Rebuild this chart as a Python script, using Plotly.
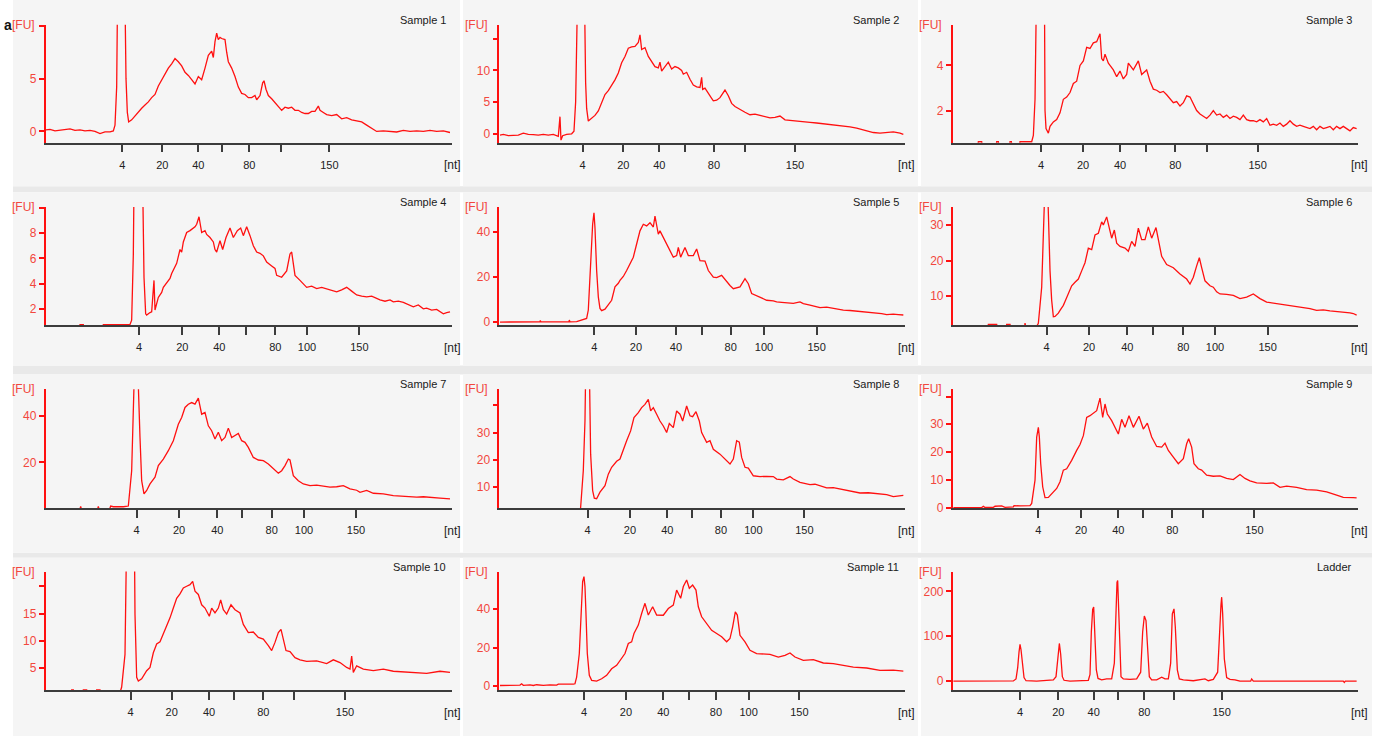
import plotly.graph_objects as go

# ---------------------------------------------------------------------------
# Electropherogram traces: (migration time [s], fluorescence [FU]) per well
# ---------------------------------------------------------------------------
s1 = [(13.8,0.15),(15,0.2),(16.5,0.05),(18,0.1),(19.5,0.2),(21,0.25),(22.5,0.1),(24,0.15),(25.5,0.05),(27,0.1),
      (28.5,0.0),(30,-0.2),(31.5,-0.05),(33,-0.05),(34,0.05),(34.5,0.6),(35.0,4.2),(35.3,14),(36.4,40),(37.6,14),
      (37.8,5),(38.2,1.8),(38.6,0.9),(39.5,1.1),(40.5,1.5),(41.5,1.8),(42.5,2.2),(43.5,2.5),(44.5,2.8),(45.5,3.2),
      (46.5,3.5),(47.5,4.3),(48.5,4.9),(49.5,5.4),(50.5,6.0),(51.5,6.4),(52.5,6.9),(53.5,6.6),(54.5,6.2),(55.5,5.6),
      (56.5,5.3),(57.5,4.9),(58.5,4.5),(59.5,5.2),(60.5,4.9),(61.5,6.0),(62.5,7.2),(63.5,7.6),(64,7.0),(64.5,8.5),
      (65,9.3),(65.5,8.7),(66,8.9),(66.5,8.8),(67.5,8.7),(68,7.5),(68.5,6.6),(69.5,6.0),(70.5,5.2),(71.5,4.2),
      (72.5,3.6),(73.5,3.5),(74.5,3.2),(75.5,3.2),(76.5,3.4),(77,3.0),(78,3.4),(78.8,4.6),(79.2,4.8),(79.8,4.0),
      (80.5,3.4),(81.5,3.1),(82.5,2.7),(83.5,2.4),(84.5,2.0),(85.5,2.3),(86.5,2.2),(87.5,2.3),(88.5,2.0),(89.5,2.0),
      (90.5,1.8),(91.5,1.7),(92.5,1.7),(93.5,1.9),(94.5,1.9),(95.5,2.4),(96,2.0),(97,1.8),(98,1.6),(99.5,1.5),
      (101,1.6),(102.5,1.2),(104,1.3),(105.5,1.1),(107,1.0),(108.5,0.9),(110,0.6),(111.5,0.3),(113,0.0),(115,0.05),
      (117,0.0),(119,-0.05),(121,0.1),(123,0.0),(125,0.05),(127,0.0),(129,0.1),(131,0.0),(133,0.05),(135,-0.1)]

s2 = [(12,-0.2),(13,-0.1),(14.5,-0.3),(16,-0.2),(17.5,-0.2),(19,0.1),(20.5,-0.1),(22,-0.15),(23.5,-0.2),(25,-0.1),
      (26.5,-0.2),(28,-0.1),(29.5,-0.4),(30,2.7),(30.3,-1.0),(30.8,-0.3),(32,-0.1),(33.5,0.0),(34.2,0.4),(34.7,5),
      (35.2,20),(36.3,40),(37.4,20),(37.7,8),(38,4),(38.5,2.0),(39.5,2.4),(40.5,2.9),(41.5,3.6),(42.5,5.0),
      (43.5,6.2),(44.5,6.8),(45.5,7.6),(46.5,8.5),(47.5,9.6),(48.5,11.2),(49.5,12.2),(50.5,13.5),(51.5,13.7),(52.5,13.8),
      (53.5,14.4),(54,15.6),(54.5,13.3),(55.5,13.6),(56.5,12.2),(57.5,11.3),(58.5,10.6),(59.5,10.4),(60,11.3),(60.5,9.9),
      (61.5,10.6),(62.5,11.3),(63.5,10.2),(64.5,10.6),(65.5,10.4),(66.5,10.0),(67,9.4),(68,9.7),(69,8.6),(70,7.7),
      (71,7.4),(72,7.3),(72.5,8.9),(72.8,7.0),(73.5,7.2),(74.5,6.3),(75.5,5.6),(76,5.2),(77,5.3),(78,5.7),
      (79,6.5),(79.5,6.9),(80.5,6.0),(81.5,4.8),(82.5,4.3),(84,3.8),(85.5,3.4),(87,3.0),(88.5,3.1),(90,2.9),
      (91.5,2.7),(93,2.5),(94.5,2.6),(96,2.8),(97.5,2.2),(99,2.1),(101,2.0),(103,1.9),(105,1.8),(107,1.7),
      (109,1.6),(111,1.5),(113,1.4),(115,1.2),(117,1.1),(119,0.9),(120.5,0.7),(122,0.4),(124,0.2),(126,0.1),
      (128,0.2),(130,0.3),(132,0.1),(133,-0.1)]

s3 = [(10,0.5),(17.4,0.5),(17.5,0.62),(18.5,0.62),(18.6,0.5),(22.9,0.5),(23,0.62),(23.5,0.62),(23.6,0.5),(26.9,0.5),
      (27,0.62),(27.4,0.62),(27.5,0.5),(29.9,0.5),(30,0.62),(33.5,0.62),(34,0.9),(34.5,2.5),(35.0,8),(36.2,25),
      (37.3,8),(37.5,2.0),(37.8,1.2),(38.5,1.0),(39,1.3),
      (40,1.5),(41,1.6),(42,1.9),(43,2.5),(44,2.6),(45,2.8),(46,3.2),(47,3.3),(48,4.0),(49,4.2),
      (50,4.8),(51,4.75),(52,5.0),(53,5.05),(54,5.4),(54.5,4.3),(55,4.2),(55.5,4.5),(56.5,4.1),(57,4.0),
      (58,3.8),(59,3.5),(60,3.75),(61,3.4),(62,3.6),(62.5,4.1),(63.5,3.9),(64,3.8),(65.5,4.2),(66.5,3.6),
      (68,3.8),(69,3.3),(70,2.95),(71,2.9),(72,2.8),(73,2.85),(74,2.7),(75,2.5),(76,2.35),(77,2.4),
      (78,2.2),(79,2.35),(80,2.65),(81,2.6),(82,2.3),(83,2.0),(84,1.85),(85,1.75),(86,1.65),(87,1.8),
      (88,2.0),(89,1.8),(90,1.85),(91,1.7),(92,1.8),(93,1.65),(94,1.75),(95,1.7),(96,1.6),(97,1.8),
      (98,1.6),(99,1.55),(100,1.55),(101,1.5),(102,1.6),(103,1.5),(104,1.65),(105,1.35),(106,1.4),(107,1.35),
      (108,1.45),(109,1.3),(110,1.4),(111,1.55),(112,1.4),(113,1.3),(114,1.35),(115,1.3),(116,1.25),(117,1.2),
      (118,1.3),(119,1.15),(120,1.3),(121,1.2),(122,1.25),(123,1.3),(124,1.15),(125,1.3),(126,1.2),(127,1.3),
      (128,1.2),(129,1.1),(130,1.25),(131,1.2)]

s4 = [(14,0.6),(23.9,0.6),(24,0.75),(25,0.75),(25.1,0.6),(30.9,0.6),(31,0.75),(39,0.75),(39.5,1.1),(40,6.3),
      (40.5,20),(42,25),(42.8,12),(43.2,4.5),(43.7,1.6),(44,1.5),(45,1.7),(45.5,1.76),(46.2,4.25),(46.5,1.9),
      (47.5,2.9),(48.5,3.3),(49,3.7),(50,4.1),(51,4.4),(51.5,4.8),(52.5,5.3),(53,5.6),(54,6.7),(54.5,6.5),
      (55,7.3),(56,8.05),(57,8.2),(57.5,8.3),(58.5,8.5),(59,8.7),(59.7,9.3),(60.5,8.05),(61.5,8.2),(62,7.9),
      (63,7.65),(64,7.3),(64.5,6.7),(65,6.5),(66,7.4),(66.8,6.7),(67.8,7.65),(69,8.4),(70,7.65),(71.2,8.2),
      (72.2,8.4),(73,7.8),(74,8.5),(75,7.8),(76,7.0),(77,6.5),(78,6.4),(79,6.2),(80,5.7),(81.5,5.4),
      (82.5,5.2),(83,4.65),(84.5,4.5),(86,5.0),(87,6.35),(87.5,6.5),(88.5,4.65),(90,4.25),(91,4.0),(92,3.7),
      (93.5,3.8),(95,3.6),(96.5,3.7),(98,3.6),(99.5,3.5),(101,3.35),(102.5,3.5),(104,3.7),(105.5,3.4),(107,3.1),
      (108.5,3.0),(110,2.95),(111.5,3.0),(113,2.8),(114,2.7),(115.5,2.6),(117,2.7),(118,2.55),(119.5,2.6),(121,2.5),
      (122.5,2.35),(124,2.15),(125.5,2.3),(127,2.0),(128,2.05),(129.5,1.9),(131,1.95),(132,1.75),(133,1.6),(134,1.7),
      (135,1.75)]

s5 = [(12,0.1),(16,0.1),(20,0.1),(24,0.2),(24.1,0.8),(24.3,0.15),(27,0.2),(30,0.2),(32.7,0.3),(32.8,1.0),
      (33,0.2),(35,0.3),(36.5,1.0),(37.5,1.3),(38,1.7),(38.5,5.4),(39.2,30),(39.8,43.2),(40.2,48.3),(40.5,41.7),
      (41,22.8),(41.5,11.2),(42,6.1),(42.5,5.1),(43.5,5.8),(44,6.8),(45,8.3),(45.5,9.7),(46.5,15.6),(47.5,17.2),
      (48,18.5),(49,20.2),(50,22.8),(51,25.5),(52,28.7),(53,34.5),(54,40.3),(55,43.2),(56,42.5),(57,43.9),
      (58,42.0),(58.5,46.8),(59,43.0),(59.5,38.8),(60,40.3),(61,37.4),(62,34.5),(63,32.3),(64,28.7),(65,29.4),
      (65.5,33.0),(66.2,28.7),(67.5,33.0),(68.5,29.4),(70,29.4),(71,32.3),(72,27.2),(73.5,27.0),(74.5,22.8),(76,19.9),
      (77,19.7),(78.5,20.7),(80,17.7),(81,16.2),(82,14.8),(84,15.6),(85.5,19.2),(86.5,17.0),(87.5,12.7),(89,11.8),
      (90,11.2),(91.5,10.2),(92,9.7),(94,9.4),(95,9.0),(96.5,8.8),(98,8.6),(100,8.3),(102,9.0),(103,8.2),
      (105,7.6),(106.5,7.2),(108,6.5),(110,6.7),(111.5,6.3),(113,5.9),(115,5.4),(117,5.2),(118.5,5.0),(120,4.65),
      (122,4.4),(124,4.0),(125,3.9),(126.5,3.8),(128,3.4),(130,3.6),(131.5,3.4),(133,3.2)]

s6 = [(10,1.5),(20.4,1.5),(20.5,2.05),(23,2.05),(23.1,1.5),(25.9,1.5),(26,2.05),(27,2.05),(27.1,1.5),(31.4,1.5),
      (31.5,2.4),(31.7,1.5),(35,1.5),
      (35.5,2.35),(36.5,12.5),(37.2,31.8),(37.6,45),(38.3,40),(39,17.1),(39.5,8.8),(40,4.2),(40.5,4.3),(41.5,5.2),
      (42,6.0),(43,7.4),(43.5,8.5),(44.5,10.6),(45.5,12.9),(46.5,13.9),(47.5,14.8),(48.5,17.1),(49.5,19.4),(50.5,23.5),
      (51.5,23.1),(52.5,27.2),(53.5,27.7),(54.5,30.9),(55,30.0),(56,32.3),(56.5,30.0),(57.5,26.3),(58.3,28.6),(59,24.9),
      (60,24.0),(61.5,23.5),(62.5,22.6),(63.5,25.4),(64.5,24.0),(65.5,29.1),(66.5,25.9),(67.5,25.9),(68.5,29.5),(69.5,26.3),
      (70.8,29.3),(71.5,26.3),(72.5,21.2),(74,18.9),(76,18.0),(78,16.2),(80,14.8),(81,13.4),(82,15.3),(83,18.5),
      (83.8,20.8),(84.5,18.0),(85.5,14.3),(87,12.9),(88,12.5),(89,11.2),(90,10.6),(92,10.5),(94,10.2),(96,9.3),
      (98,9.7),(100,10.6),(102,9.3),(104,8.3),(106,8.0),(108,7.9),(110,7.6),(111,7.4),(113,7.1),(115,6.8),
      (117,6.5),(119,6.0),(121,6.1),(123,5.85),(125,5.7),(127,5.6),(129,5.3),(130,5.1),(131,4.65)]

s7 = [(14,-0.5),(23.9,-0.5),(24.2,1.0),(24.5,-0.5),(29.2,-0.5),(29.5,1.0),(29.8,-0.5),(32.8,-0.5),(33.2,1.2),(34,0.9),
      (37,0.9),(38.5,1.2),(39.5,16.4),(40.2,53),(41,60),(41.5,53),(42,30.7),(42.5,12.1),(43.2,6.4),
      (44,7.9),(45,10.7),(46.5,13.6),(47.5,18.6),(49,21.4),(50.5,25.0),(52,29.3),(53.5,36.4),(54.5,39.3),(55.5,43.6),
      (56.5,45.0),(57.5,45.7),(58.5,45.0),(59.5,47.6),(60.5,40.7),(61.5,41.4),(62.5,35.7),(63.5,33.6),(64.5,30.0),(65.5,32.9),
      (66.5,29.3),(67.5,30.7),(68.5,34.7),(69.5,30.7),(70.5,31.4),(71.5,32.4),(72.5,29.3),(73.5,28.6),(74.5,26.4),(76,22.1),
      (77.5,21.0),(79,20.7),(80.5,19.3),(82,17.1),(83.5,15.3),(84.5,16.4),(85.5,18.6),(86.5,21.4),(87,21.0),(88,14.3),
      (89.5,12.1),(91,10.7),(93,10.0),(95,10.2),(96,10.0),(99,9.3),(101,9.5),(103,10.0),(105,8.6),(107,8.0),
      (108,7.1),(110,7.9),(112,6.7),(115,6.4),(118,5.7),(121,5.4),(123,5.5),(125,5.0),(127,5.2),(130,4.7),
      (132,4.6),(135,4.3)]

s8 = [(12,0.0),(36,0.2),(36.2,2.7),(37,16.1),(37.5,34.2),(37.8,60),(38.8,55),(39.2,22.1),(39.8,8.8),(40.3,6.0),
      (41,5.8),(42,8.2),(43.5,10.6),(44.5,14.8),(45.5,17.3),(47,19.5),(48,20.3),(49,23.9),(50,27.0),(51.2,30.6),
      (52.2,35.5),(53.5,37.3),(54.5,39.1),(55.5,40.3),(56.5,42.1),(57.2,37.9),(58,39.1),(59,36.7),(60,34.2),(61,32.4),
      (62,30.0),(62.8,33.3),(64,31.8),(65,37.9),(66,36.7),(66.8,34.2),(68,39.7),(69,36.1),(69.8,35.8),(70.8,37.6),
      (71.8,34.2),(72.5,30.0),(74,26.4),(75,27.0),(76,23.9),(78,22.1),(80,19.7),(81,18.5),(82,20.3),(83,27.0),
      (83.8,26.5),(84.5,20.9),(85.5,17.3),(86.5,17.0),(88,14.2),(90,13.9),(92,14.0),(94,13.9),(95,13.0),(97,12.7),
      (99,13.9),(100,13.0),(102,11.8),(103.5,11.5),(105,11.0),(106.5,11.1),(108,10.6),(110,9.8),(112,9.9),(114,9.4),
      (117,8.5),(120,7.9),(122.5,8.0),(125,7.8),(128,7.3),(130,6.6),(131.5,6.9),(133,7.0)]

s9 = [(10,0.0),(16,0.05),(18.5,0.05),(19,0.5),(19.5,0.05),(22,0.1),(22.5,0.5),(24.5,0.6),(25.5,0.1),(28,0.3),
      (28.2,0.7),(30,0.6),(32,0.6),(33,0.7),(33.5,1.5),(34.5,9.9),(35,25.4),(35.5,28.9),(35.8,25.4),(36.2,15.9),
      (36.8,7.5),(37.5,3.6),(38.5,3.7),(39.5,5.1),(41,6.9),(42,9.3),(43,13.5),(44,14.0),(45.5,17.0),(47,20.6),
      (48,22.7),(49,25.9),(50,32.5),(51,33.1),(52,33.9),(53,34.9),(54,39.4),(54.8,32.5),(55.5,37.3),(56.2,33.7),
      (57.5,31.3),(58.5,28.9),(59.5,26.5),(60.5,31.8),(61.5,28.9),(62.7,33.1),(64,28.9),(65.7,32.9),(67,28.3),(68.2,30.4),
      (69.5,25.4),(71,22.0),(72.5,21.8),(73.5,23.2),(74.5,20.6),(76,18.2),(77.5,15.8),(79,17.6),(80,23.0),(80.6,24.8),
      (81.5,21.8),(82.2,15.8),(83.5,14.0),(84.5,13.5),(86,11.7),(88,11.3),(90,11.4),(92,10.5),(94,10.1),(96,11.9),
      (97.5,10.5),(99,9.6),(101,8.9),(104,8.7),(106,8.9),(108,7.3),(110,7.7),(113,7.3),(116,6.5),(119,6.3),
      (122,5.7),(125,4.5),(127,3.7),(130,3.6),(131,3.5)]

s10 = [(14,0.5),(21.4,0.5),(21.5,1.0),(22,1.0),(22.1,0.5),(24.9,0.5),(25,1.0),(26,1.0),(26.1,0.5),(28.9,0.5),
       (29,1.0),(30,1.0),(30.1,0.5),(36,0.5),(36.5,1.5),(37.5,7.5),
       (38,30),(40.3,30),(40.5,14.8),(41,3.3),(41.5,2.6),(42.5,3.0),(44,4.5),(45,5.1),(46,7.8),(47,9.4),
       (48,9.8),(49,11.2),(50,12.7),(51,14.2),(52,16.0),(53,17.8),(54,18.6),(55,19.7),(56,20.0),(57,20.3),
       (57.8,20.9),(58.5,19.1),(59.5,18.5),(60.5,16.6),(61.5,16.0),(62.8,14.5),(63.5,16.0),(64.5,15.1),(65.5,16.0),(66.2,17.5),
       (67,15.7),(68,14.9),(69.3,16.6),(70.5,15.7),(72,15.1),(73,13.0),(74.5,11.5),(76,11.6),(77.5,10.6),(79,10.3),
       (80.5,9.1),(81.5,8.2),(82.5,9.7),(83.5,11.5),(84.3,12.1),(85,10.0),(85.8,8.2),(87,8.0),(88.5,6.9),(90,6.5),
       (92,6.2),(95,6.3),(98,5.8),(100,6.5),(102,6.0),(104,5.1),(105,4.8),(105.5,7.2),(106,4.2),(107,5.4),
       (109,4.8),(112,4.5),(115,4.8),(118,4.4),(122,4.2),(125,4.1),(128,4.0),(132,4.4),(135,4.2)]

s11 = [(12,0.3),(18,0.5),(18.5,1.2),(19,0.4),(21,0.6),(22,0.3),(23,0.7),(25,0.4),(27,0.6),(29,0.5),
       (29.5,1.0),(31,0.9),(34,1.0),(34.5,1.2),(35,4.7),(35.8,16.9),(36.2,33.4),(36.8,54.3),(37.2,56.9),(37.5,51.7),
       (37.8,37.7),(38.2,16.9),(38.8,5.6),(39.5,3.0),(41,2.6),(42.5,3.8),(44,5.6),(45.5,9.0),(47,10.8),(48.5,14.3),
       (49.5,16.9),(50.5,22.1),(51.5,23.0),(52.2,27.3),(53.5,31.7),(54.5,37.7),(55.5,43.0),(56.5,36.9),(57.8,41.2),(59,36.9),
       (60,37.0),(61,36.8),(62.5,40.3),(64,42.1),(65,49.9),(66.2,45.6),(67,51.7),(68,55.1),(68.8,50.8),(69.8,52.5),
       (70.8,49.9),(71.5,41.2),(72.5,36.0),(74,32.5),(75.5,29.0),(77,27.3),(78.5,25.6),(80,23.0),(81,24.7),(81.8,30.8),
       (82.6,38.6),(83.2,36.9),(84,26.4),(85.5,23.0),(87,18.6),(89,16.9),(91,16.7),(93,16.5),(95.5,15.1),(97.5,16.0),
       (99,17.2),(100.5,15.1),(103,13.4),(106,13.7),(109,12.0),(112,11.7),(115,10.8),(118,9.9),(122,9.4),(126,8.2),
       (130,8.3),(133,7.8)]

ladder = [(10,0),(25,0),(28,0.5),(28.8,5),(29.3,30),(29.7,65),(30,82),(30.3,70),(30.7,35),(31.2,8),
          (31.8,1),(35,0),(38,2),(40,3),(40.8,10),(41.3,55),(41.8,84),(42.2,60),(42.7,10),(43.2,2),
          (45,0),(50.5,2),(51,15),(51.4,110),(51.8,160),(52.1,165),(52.5,110),(52.9,25),(53.4,6),(54.5,3),
          (56,5),(57.5,5),(58.3,40),(58.7,140),(59.1,220),(59.3,224),(59.6,160),(59.9,60),(60.3,10),(61,5),
          (63,4),(65,5),(66.2,20),(66.8,110),(67.3,145),(67.8,135),(68.3,60),(68.8,10),(69.5,3),(71,3),
          (72.5,9),(73.5,5),(74.5,5),(75.2,40),(75.7,150),(76.2,161),(76.6,120),(77.2,25),(77.8,5),(79,3),
          (82,1),(84.5,4),(85.5,5),(86.5,1),(88,4),(89.3,20),(89.8,115),(90.3,170),(90.5,187),(90.8,150),
          (91.3,50),(92,8),(93,4),(94.5,3),(96,0),(99.2,0),(99.5,5),(100,0),(110,0),(120,0),
          (127,0),(127.3,-3),(127.6,0),(131,0)]

titles = ["Sample 1", "Sample 2", "Sample 3", "Sample 4", "Sample 5", "Sample 6",
          "Sample 7", "Sample 8", "Sample 9", "Sample 10", "Sample 11", "Ladder"]
traces = [s1, s2, s3, s4, s5, s6, s7, s8, s9, s10, s11, ladder]

# ladder sizes [nt] and their migration times in each run
size_labels_a = ["4", "20", "40", "", "80", "", "150"]
size_labels_b = ["4", "20", "40", "", "80", "100", "150"]
size_times = [
    [36.7, 48.7, 59.5, 66.7, 74.8, 84.3, 98.8],
    [36.8, 49.0, 59.8, 67.6, 76.2, 85.5, 100.5],
    [36.3, 48.9, 60.0, 67.8, 76.6, 86.0, 101.3],
    [41.7, 54.7, 65.8, 73.8, 82.6, 92.1, 107.8],
    [40.3, 52.8, 64.8, 72.5, 81.2, 91.2, 107.0],
    [38.0, 50.7, 62.2, 69.8, 79.0, 88.5, 104.3],
    [41.0, 53.7, 65.2, 72.7, 81.5, 91.2, 106.8],
    [38.3, 51.0, 62.2, 69.7, 78.3, 88.0, 103.3],
    [35.5, 48.3, 59.5, 66.8, 75.7, 85.0, 100.3],
    [39.2, 51.5, 62.7, 70.3, 79.0, 88.3, 103.5],
    [37.2, 49.8, 61.0, 68.6, 76.8, 86.6, 101.8],
    [30.0, 41.5, 52.1, 59.4, 67.3, 76.3, 90.5],
]
size_labels = [size_labels_a, size_labels_a, size_labels_a,
               size_labels_b, size_labels_b, size_labels_b,
               size_labels_b, size_labels_b, size_labels_a,
               size_labels_a, size_labels_b, size_labels_a]

# FU axis ranges and ticks for each panel
fu_ranges = [(-1.06, 10.1), (-1.4, 17.2), (0.58, 5.8), (0.72, 10.07), (-1.16, 50.8), (1.89, 35.07),
             (0.29, 51.4), (2.36, 45.8), (-0.2, 42.6), (0.88, 22.7), (-2.26, 59.5), (-20.6, 244)]
fu_ticks = [[0, 5, 10], [0, 5, 10, 15], [2, 4], [2, 4, 6, 8, 10], [0, 20, 40], [10, 20, 30],
            [20, 40], [10, 20, 30, 40], [0, 10, 20, 30, 40], [5, 10, 15, 20], [0, 20, 40], [0, 100, 200]]
fu_ticktext = [["0", "5", ""], ["0", "5", "10", ""], ["2", "4"], ["2", "4", "6", "8", ""],
               ["0", "20", "40"], ["10", "20", "30"], ["20", "40"], ["10", "20", "30", ""],
               ["0", "10", "20", "30", ""], ["5", "10", "15", ""], ["0", "20", "40"], ["0", "100", "200"]]

# ---------------------------------------------------------------------------
# Page geometry (pixels)
# ---------------------------------------------------------------------------
W, H = 1382, 743
COL_X = [(45.5, 451.5), (499.3, 905.0), (952.7, 1358.3)]
COL_TRANGE = [(13.65, 135.45), (11.8, 133.5), (9.8, 131.5)]
ROW_Y = [(25, 144), (209, 328), (393, 513), (577, 697)]
PANEL_X = [(13, 460), (463, 918), (921, 1372)]
PANEL_Y = [(0, 188), (194, 369), (378, 558), (563, 743)]

RED = "#ff1010"
LABEL_RED = "#f2473d"
DARK = "#3c3c3c"
FONT = "Liberation Sans"

fig = go.Figure()
layout = dict(
    width=W, height=H, autosize=False,
    margin=dict(l=0, r=0, t=0, b=0),
    paper_bgcolor="white", plot_bgcolor="rgba(0,0,0,0)",
    showlegend=False, shapes=[], annotations=[],
)

def px(x):
    return x / W

def py(y):
    return 1 - y / H

# row separators and panel backgrounds
for r in range(3):
    layout["shapes"].append(dict(type="rect", xref="paper", yref="paper", layer="below",
                                 x0=px(13), x1=px(1372), y0=py(PANEL_Y[r + 1][0]), y1=py(PANEL_Y[r][1]),
                                 fillcolor="#e9e9e9", line=dict(width=0)))
for r in range(4):
    for c in range(3):
        x0, x1 = PANEL_X[c]
        y0, y1 = PANEL_Y[r]
        layout["shapes"].append(dict(type="rect", xref="paper", yref="paper", layer="below",
                                     x0=px(x0), x1=px(x1), y0=py(y1), y1=py(y0),
                                     fillcolor="#f5f5f5", line=dict(width=0)))

for i, data in enumerate(traces):
    r, c = divmod(i, 3)
    n = i + 1
    xl, xr = COL_X[c]
    yt, yb = ROW_Y[r]
    xname = "xaxis" if n == 1 else f"xaxis{n}"
    yname = "yaxis" if n == 1 else f"yaxis{n}"
    xref = "x" if n == 1 else f"x{n}"
    yref = "y" if n == 1 else f"y{n}"

    t = [p[0] for p in data]
    fu = [p[1] for p in data]
    fig.add_trace(go.Scatter(x=t, y=fu, mode="lines", xaxis=xref, yaxis=yref,
                             line=dict(color=RED, width=1.3), hoverinfo="skip"))

    layout[xname] = dict(
        domain=[px(xl), px(xr)], anchor=yref, range=list(COL_TRANGE[c]),
        tickmode="array", tickvals=size_times[i], ticktext=size_labels[i],
        showline=True, linecolor=DARK, linewidth=1.5, mirror=False,
        ticks="outside", ticklen=8, tickwidth=1.5, tickcolor=DARK,
        tickfont=dict(family=FONT, size=11, color="#222222"), ticklabelstandoff=3,
        showgrid=False, zeroline=False, fixedrange=True,
    )
    layout[yname] = dict(
        domain=[py(yb), py(yt)], anchor=xref, range=list(fu_ranges[i]),
        tickmode="array", tickvals=fu_ticks[i], ticktext=fu_ticktext[i],
        showline=True, linecolor=RED, linewidth=1.5,
        ticks="outside", ticklen=5, tickwidth=1.5, tickcolor=RED,
        tickfont=dict(family=FONT, size=12, color=LABEL_RED),
        showgrid=False, zeroline=False, fixedrange=True,
    )

    layout["annotations"] += [
        dict(text="[FU]", xref="paper", yref="paper", x=px(xl - 9), y=py(yt), xanchor="right",
             yanchor="middle", showarrow=False, font=dict(family=FONT, size=12, color=LABEL_RED)),
        dict(text="[nt]", xref="paper", yref="paper", x=px(xr + 1), y=py(yb + 23), xanchor="center",
             yanchor="middle", showarrow=False, font=dict(family=FONT, size=12, color="#222222")),
        dict(text=titles[i], xref="paper", yref="paper", x=px(xr - 4), y=py(yt - 5), xanchor="right",
             yanchor="middle", showarrow=False, font=dict(family=FONT, size=11, color="#1a1a1a")),
    ]

# figure part label
layout["annotations"].append(dict(text="<b>a</b>", xref="paper", yref="paper", x=px(14), y=py(25),
                                  xanchor="right", yanchor="middle", showarrow=False,
                                  font=dict(family=FONT, size=14, color="#111111")))

fig.update_layout(**layout)
fig.write_html("out.html")
